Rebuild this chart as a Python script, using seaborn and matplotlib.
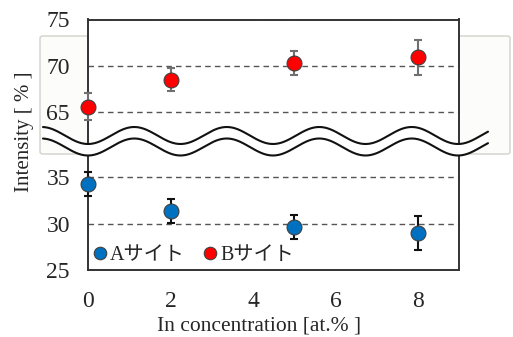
import numpy as np
import pandas as pd
import matplotlib.pyplot as plt
import seaborn as sns
from matplotlib.lines import Line2D
from matplotlib.patches import FancyBboxPatch

# values
conc = [0, 2, 5, 8]
site_a = [34.3, 31.4, 29.6, 29.0]
site_a_err = [1.3, 1.3, 1.3, 1.85]
site_b = [65.6, 68.5, 70.3, 70.9]
site_b_err = [1.5, 1.25, 1.25, 1.85]
site_names = ['Aサイト', 'Bサイト']
x_ticks = [0, 2, 4, 6, 8]
top_ticks = [65, 70, 75]
bot_ticks = [25, 30, 35]

sns.set_style('white')
plt.rcParams['font.family'] = ['Liberation Serif', 'Noto Sans CJK JP']

W, H = 513, 337
fig = plt.figure(figsize=(W / 100, H / 100), dpi=100)


def box(l, t, r, b):
    return [l / W, 1 - b / H, (r - l) / W, (b - t) / H]


# faint frame behind the upper part
fig.patches.append(FancyBboxPatch((40 / W, 1 - 154 / H), 470 / W, 118 / H,
                                  boxstyle='round,pad=0,rounding_size=0.006',
                                  transform=fig.transFigure, facecolor='#fcfcfa',
                                  edgecolor='#d2d2cc', lw=1, zorder=-5))

ax_top = fig.add_axes(box(88, 19.5, 459.3, 150))
ax_bot = fig.add_axes(box(88, 150, 459.3, 270))

df_a = pd.DataFrame({'x': conc, 'y': site_a, 'site': site_names[0]})
df_b = pd.DataFrame({'x': conc, 'y': site_b, 'site': site_names[1]})

blue, red = '#0070c0', '#ff0000'

for ax, df, err, col, ecol in [(ax_top, df_b, site_b_err, red, '#707070'),
                               (ax_bot, df_a, site_a_err, blue, '#111111')]:
    eb = ax.errorbar(df['x'], df['y'], yerr=err, fmt='none', ecolor=ecol,
                     elinewidth=1.5, capsize=3, capthick=1.5, zorder=3)
    for art in eb.lines[1] + eb.lines[2]:
        art.set_clip_on(False)
    sns.scatterplot(data=df, x='x', y='y', color=col, s=115, edgecolor='#404040',
                    linewidth=0.8, ax=ax, zorder=4, clip_on=False, legend=False)
    ax.set_xlim(0, 9)
    ax.set_xlabel('')
    ax.set_ylabel('')
    ax.yaxis.grid(True, ls=(0, (4, 3)), color='#555555', lw=1.0)
    ax.xaxis.grid(False)
    ax.tick_params(length=0, labelsize=17, pad=13)
    for sp in ax.spines.values():
        sp.set_color('#333333')
        sp.set_linewidth(1.4)

ax_top.set_ylim(60.9, 75)
ax_top.set_yticks(top_ticks)
ax_top.set_xticks([])
ax_top.spines['bottom'].set_visible(False)

ax_bot.set_ylim(25, 37.97)
ax_bot.set_yticks(bot_ticks)
ax_bot.set_xticks(x_ticks)
ax_bot.spines['top'].set_visible(False)
ax_bot.tick_params(axis='x', pad=15)

handles = [Line2D([], [], marker='o', ls='', markersize=9, markerfacecolor=c,
                  markeredgecolor='#404040', markeredgewidth=0.8) for c in (blue, red)]
ax_bot.legend(handles, site_names, loc='lower left', ncol=2, frameon=False,
              fontsize=14.5, handlelength=0.7, handletextpad=0.15,
              columnspacing=0.9, borderaxespad=0.15, borderpad=0.1)

fig.text(25 / W, 1 - 131.5 / H, 'Intensity [ % ]', rotation=90, fontsize=15,
         ha='center', va='center')
fig.text(259.5 / W, 1 - 330 / H, 'In concentration [at.% ]', fontsize=15.5,
         ha='center', va='baseline')

# wavy axis break
ov = fig.add_axes([0, 0, 1, 1], zorder=10)
ov.set_xlim(0, W)
ov.set_ylim(H, 0)
ov.axis('off')
xs = np.linspace(43, 488, 500)
y1 = 135.5 + 8.5 * np.cos(2 * np.pi * (xs - 88) / 92.5)
y2 = y1 + 11.5
ov.fill_between(xs, y1, y2, color='white', lw=0)
ov.plot(xs, y1, color='#111111', lw=1.5)
ov.plot(xs, y2, color='#111111', lw=1.5)

fig.savefig('out.png', dpi=100)
